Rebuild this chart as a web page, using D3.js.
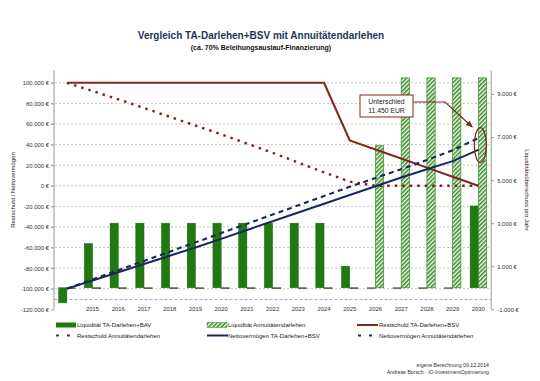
<!DOCTYPE html>
<html><head><meta charset="utf-8">
<script src="https://cdn.jsdelivr.net/npm/d3@7"></script>
<style>body{margin:0;background:#fff}svg{display:block;font-family:"Liberation Sans",Arial,sans-serif}</style>
</head><body><svg id="c" width="540" height="381"></svg>
<script>
// ---- data ----
const years = ["2014","2015","2016","2017","2018","2019","2020","2021","2022","2023","2024","2025","2026","2027","2028","2029","2030"];
const xTickLabels = ["","2015","2016","2017","2018","2019","2020","2021","2022","2023","2024","2025","2026","2027","2028","2029","2030"];
const liqTA   = [-700,2050,3000,3000,3000,3000,3000,3000,3000,3000,3000,1000,0,0,0,0,3800];
const liqAnn  = [0,0,0,0,0,0,0,0,0,0,0,0,6600,9750,9750,9750,9750];
const restTA  = [100000,100000,100000,100000,100000,100000,100000,100000,100000,100000,100000,44000,35200,26400,17600,8800,0];
const restAnn = [100000,92000,84000,75500,67000,58500,50000,41000,32000,22500,13000,4000,0,0,0,0,0];
const netTA   = [-100000,-92000,-84000,-76000,-68000,-60000,-51500,-43000,-34500,-26000,-17500,-9000,-500,8000,16000,24000,34800];
const netAnn  = [-100000,-91000,-82000,-73000,-64000,-55000,-46000,-37000,-28000,-19000,-10000,-1000,7500,16000,25000,34500,46250];
const leftTicks  = [100000,80000,60000,40000,20000,0,-20000,-40000,-60000,-80000,-100000,-120000];
const rightTicks = [9000,7000,5000,3000,1000,-1000];
const legendItems = ["Liquidität TA-Darlehen+BAV","Liquidität Annuitätendarlehen","Restschuld TA-Darlehen+BSV","Restschuld Annuitätendarlehen","Nettovermögen TA-Darlehen+BSV","Nettovermögen Annuitätendarlehen"];
const calloutLines = ["Unterschied","11.450 EUR"];

const fmt = v => (v<0?"-":"") + d3.format(",")(Math.abs(v)).replace(/,/g,".") + " €";

const svg = d3.select("#c");
const L=54, R=491.2, T=72.5, B=309.3;
const x = d3.scaleBand().domain(years).range([L,R]).padding(0);
const bw = x.bandwidth();
const x1 = d3.scaleBand().domain(["ta","ann"]).range([bw*0.18, bw*0.82]).padding(0);
const yL = d3.scaleLinear().domain([-120000,110000]).range([B,T]);
const yR = d3.scaleLinear().domain([-1000,10000]).range([B,T]);

const defs = svg.append("defs");
const pat = defs.append("pattern").attr("id","hatch").attr("patternUnits","userSpaceOnUse")
  .attr("width",3).attr("height",3).attr("patternTransform","rotate(45)");
pat.append("rect").attr("width",3).attr("height",3).attr("fill","#f4fbef");
pat.append("rect").attr("width",1.6).attr("height",3).attr("fill","#3f8f2f");
const arrow = defs.append("marker").attr("id","arr").attr("viewBox","0 0 10 10").attr("refX",9).attr("refY",5)
  .attr("markerWidth",6).attr("markerHeight",6).attr("orient","auto-start-reverse");
arrow.append("path").attr("d","M0,1 L10,5 L0,9 z").attr("fill","#7f2a1e");

// titles
svg.append("text").attr("x",261).attr("y",39).attr("text-anchor","middle").attr("font-weight","bold")
  .attr("font-size",10).attr("fill","#1f3560").text("Vergleich TA-Darlehen+BSV mit Annuitätendarlehen");
svg.append("text").attr("x",261).attr("y",50).attr("text-anchor","middle").attr("font-weight","bold")
  .attr("font-size",7).attr("fill","#111").text("(ca. 70% Beleihungsauslauf-Finanzierung)");

// grid
const gGrid = svg.append("g");
gGrid.selectAll("line").data(leftTicks.filter(t=>t>-120000)).join("line")
  .attr("x1",L-3).attr("x2",R).attr("y1",d=>yL(d)).attr("y2",d=>yL(d))
  .attr("stroke","#b5b5b5").attr("stroke-width",0.8).attr("stroke-dasharray","2,2");

// axes
const axL = svg.append("g").attr("transform",`translate(${L},0)`)
  .call(d3.axisLeft(yL).tickValues(leftTicks).tickFormat(fmt).tickSize(3).tickPadding(2));
const axR = svg.append("g").attr("transform",`translate(${R},0)`)
  .call(d3.axisRight(yR).tickValues(rightTicks).tickFormat(fmt).tickSize(3).tickPadding(3));
[axL,axR].forEach(a=>{
  a.select(".domain").attr("stroke","#9a9a9a").attr("d", a===axL?`M0,${T-2}V${B}`:`M0,${T-2}V${B}`);
  a.selectAll(".tick line").attr("stroke","#9a9a9a");
  a.selectAll("text").attr("font-size",5.9).attr("fill","#333").attr("font-family","Liberation Sans, Arial, sans-serif");
});
const axX = svg.append("g").attr("transform",`translate(0,${yL(-110000)})`)
  .call(d3.axisBottom(x).tickFormat((d,i)=>xTickLabels[i]).tickSize(0).tickPadding(8));
axX.select(".domain").attr("stroke","#aaa").attr("stroke-dasharray","3,2");
axX.selectAll("text").attr("font-size",5.9).attr("fill","#333").attr("font-family","Liberation Sans, Arial, sans-serif");

// axis titles
svg.append("text").attr("transform","translate(15,190) rotate(-90)").attr("text-anchor","middle")
  .attr("font-size",6).attr("fill","#222").text("Restschuld / Nettovermögen");
svg.append("text").attr("transform","translate(525,190) rotate(90)").attr("text-anchor","middle")
  .attr("font-size",6).attr("fill","#222").text("Liquiditätsüberschuss pro Jahr");

// bars
function barY(v){ return Math.min(yR(v), yR(0)); }
function barH(v){ return Math.max(Math.abs(yR(v)-yR(0)), 0.8); }
svg.append("g").selectAll("rect").data(years).join("rect")
  .attr("x",d=>x(d)+x1("ta")).attr("width",x1.bandwidth())
  .attr("y",(d,i)=>barY(liqTA[i])).attr("height",(d,i)=>barH(liqTA[i]))
  .attr("fill",(d,i)=>liqTA[i]===0?"#4b5a22":"#217a10").attr("stroke",(d,i)=>liqTA[i]===0?"#4b5a22":"#1b6a0c").attr("stroke-width",0.5);
svg.append("g").selectAll("rect").data(years).join("rect")
  .attr("x",d=>x(d)+x1("ann")).attr("width",x1.bandwidth())
  .attr("y",(d,i)=>barY(liqAnn[i])).attr("height",(d,i)=>barH(liqAnn[i]))
  .attr("fill",(d,i)=>liqAnn[i]===0?"#4b5a22":"url(#hatch)").attr("stroke",(d,i)=>liqAnn[i]===0?"#4b5a22":"#3a8a2a").attr("stroke-width",0.7);

// lines
const cx = d => x(d)+bw/2;
function drawLine(vals, color, w, dash){
  const ln = d3.line().x((d,i)=>cx(years[i])).y(d=>yL(d));
  svg.append("path").datum(vals).attr("d",ln).attr("fill","none").attr("stroke",color)
    .attr("stroke-width",w).attr("stroke-dasharray",dash||null);
}
drawLine(restAnn,"#7b2418",2.4,"2.5,5");
drawLine(restTA,"#7f2a1e",2.1);
drawLine(netAnn,"#1a2860",2.1,"5,4");
drawLine(netTA,"#1a2860",1.9);

// callout
const last = years[years.length-1];
const midV = (netTA[16]+netAnn[16])/2;
svg.append("ellipse").attr("cx",cx(last)+2).attr("cy",yL(midV)+1).attr("rx",6).attr("ry",17.5)
  .attr("fill","none").attr("stroke","#7f2a1e").attr("stroke-width",1.3);
svg.append("rect").attr("x",360).attr("y",95).attr("width",53).attr("height",22)
  .attr("fill","#fff").attr("stroke","#7f2a1e").attr("stroke-width",1);
svg.append("text").attr("x",386.5).attr("font-size",6.8).attr("fill","#222").attr("text-anchor","middle")
  .selectAll("tspan").data(calloutLines).join("tspan").attr("x",386.5).attr("y",(d,i)=>104+i*8.5).text(d=>d);
svg.append("path").attr("d",`M413,102 L445,102 L${cx(last)-6},${yL(midV)-17}`).attr("fill","none")
  .attr("stroke","#7f2a1e").attr("stroke-width",1.2).attr("marker-end","url(#arr)");

// legend
const lg = svg.append("g");
const pos = [[56,325],[207,325],[357,325],[56,335.5],[207,335.5],[357,335.5]];
const textX = [77,228,379,77,228,379];
legendItems.forEach((t,i)=>{
  const [px,py]=pos[i];
  if(i===0) lg.append("rect").attr("x",px).attr("y",py-2.5).attr("width",20).attr("height",5).attr("fill","#217a10");
  if(i===1) lg.append("rect").attr("x",px).attr("y",py-2.5).attr("width",20).attr("height",5).attr("fill","url(#hatch)").attr("stroke","#3a8a2a").attr("stroke-width",0.5);
  if(i===2) lg.append("line").attr("x1",px).attr("x2",px+21).attr("y1",py).attr("y2",py).attr("stroke","#7f2a1e").attr("stroke-width",2);
  if(i===3) lg.append("line").attr("x1",px).attr("x2",px+16).attr("y1",py).attr("y2",py).attr("stroke","#7b2418").attr("stroke-width",2.2).attr("stroke-dasharray","3,8");
  if(i===4) lg.append("line").attr("x1",px).attr("x2",px+21).attr("y1",py).attr("y2",py).attr("stroke","#1a2860").attr("stroke-width",2);
  if(i===5) lg.append("line").attr("x1",px+1).attr("x2",px+15).attr("y1",py).attr("y2",py).attr("stroke","#1a2860").attr("stroke-width",2.2).attr("stroke-dasharray","3,8");
  lg.append("text").attr("x",textX[i]).attr("y",py+2).attr("font-size",6).attr("fill","#222").text(t);
});

// footer
svg.append("text").attr("x",489).attr("y",367).attr("text-anchor","end").attr("font-size",5.2).attr("fill","#333").text("eigene Berechnung 09.12.2014");
svg.append("text").attr("x",489).attr("y",374).attr("text-anchor","end").attr("font-size",5.2).attr("fill","#333").text("Andreas Borsch - IO-InvestmentOptimierung");
</script></body></html>
